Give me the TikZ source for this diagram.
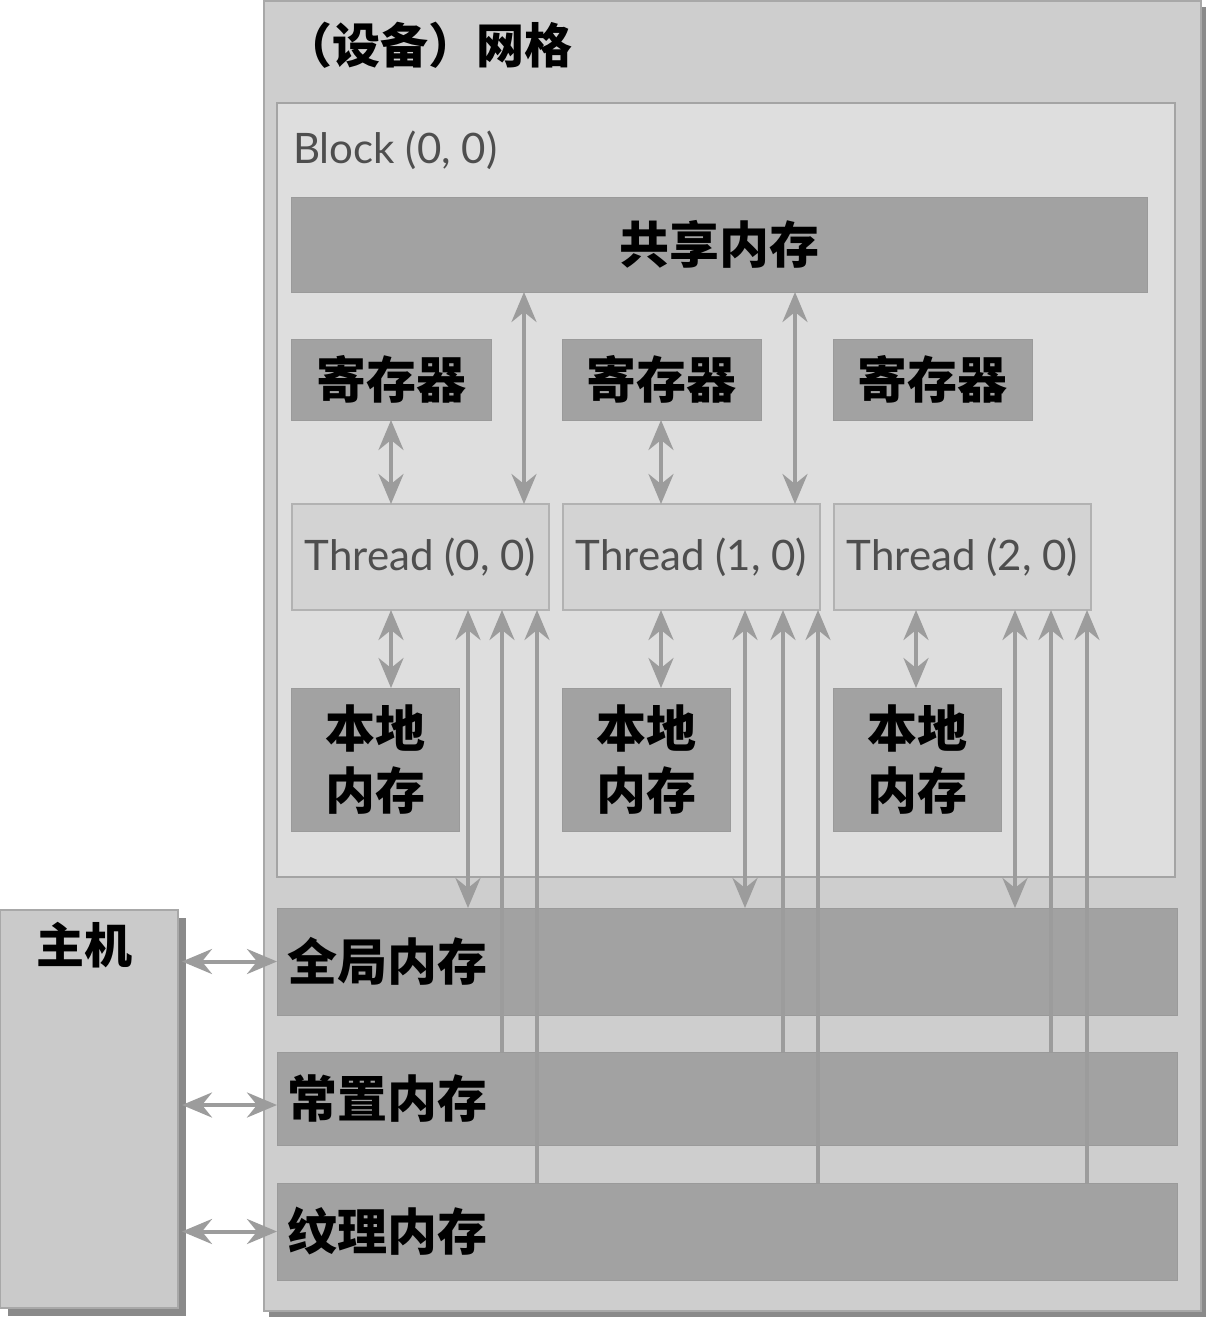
\documentclass[tikz,border=0pt]{standalone}
\usepackage{fontspec}
\setmainfont{Lato}
\newfontfamily\cjk{Noto Sans CJK SC}
\usetikzlibrary{arrows.meta,shadows,calc}
\definecolor{gridfill}{HTML}{CECECE}
\definecolor{gridline}{HTML}{A8A8A8}
\definecolor{blockfill}{HTML}{DEDEDE}
\definecolor{blockline}{HTML}{A4A4A4}
\definecolor{darkfill}{HTML}{A2A2A2}
\definecolor{darkline}{HTML}{9A9A9A}
\definecolor{thfill}{HTML}{D3D3D3}
\definecolor{thline}{HTML}{B2B2B2}
\definecolor{arrowc}{HTML}{9C9C9C}
\definecolor{hostfill}{HTML}{CACACA}
\definecolor{shadowc}{HTML}{8A8A8A}
\definecolor{txtgray}{HTML}{4E4E4E}
\begin{document}
\begin{tikzpicture}[x=1pt,y=-1pt,
  box/.style={rectangle, anchor=north west, inner sep=0pt, outer sep=0pt},
  darkbox/.style={box, fill=darkfill, draw=darkline, line width=1pt,
    font=\cjk\bfseries\fontsize{50}{62}\selectfont, text=black, align=center},
  membox/.style={darkbox, minimum width=900pt, text width=880pt, align=left},
  thbox/.style={box, fill=thfill, draw=thline, line width=1.5pt, minimum width=257pt,
    minimum height=106pt, font=\fontsize{42}{48}\selectfont, text=txtgray},
  conn/.style={draw=arrowc, line width=4pt},
  >={Stealth[length=30pt,width=25pt,inset=10pt]}
]
\useasboundingbox (0,0) rectangle (1208,1318);

% grid (device)
\node[box, fill=gridfill, draw=gridline, line width=1.5pt, minimum width=937pt, minimum height=1310pt,
  drop shadow={shadow xshift=5pt, shadow yshift=-6pt, opacity=1, fill=shadowc}] (grid) at (264,1) {};
\node[anchor=west, font=\cjk\bfseries\fontsize{48}{52}\selectfont, inner sep=0pt] (gridlbl) at (284,45) {（设备）网格};

% block
\node[box, fill=blockfill, draw=blockline, line width=2pt, minimum width=898pt, minimum height=774pt] (block) at (277,103) {};
\node[anchor=west, font=\fontsize{42}{48}\selectfont, text=txtgray, inner sep=0pt] (blocklbl) at (293,150) {Block (0, 0)};

% shared memory
\node[darkbox, minimum width=856pt, minimum height=95pt] (sh) at (291,197) {共享内存};

% registers
\node[darkbox, minimum width=200pt, minimum height=81pt] (r1) at (291,339) {寄存器};
\node[darkbox, minimum width=199pt, minimum height=81pt] (r2) at (562,339) {寄存器};
\node[darkbox, minimum width=199pt, minimum height=81pt] (r3) at (833,339) {寄存器};

% threads
\node[thbox] (t1) at (292,504) {Thread (0, 0)};
\node[thbox] (t2) at (563,504) {Thread (1, 0)};
\node[thbox] (t3) at (834,504) {Thread (2, 0)};

% local memory
\node[darkbox, minimum width=168pt, minimum height=143pt] (l1) at (291,688) {本地\\内存};
\node[darkbox, minimum width=168pt, minimum height=143pt] (l2) at (562,688) {本地\\内存};
\node[darkbox, minimum width=168pt, minimum height=143pt] (l3) at (833,688) {本地\\内存};

% device memories
\node[membox, minimum height=107pt] (gm) at (277,908) {全局内存};
\node[membox, minimum height=93pt] (cm) at (277,1052) {常置内存};
\node[membox, minimum height=97pt] (tm) at (277,1183) {纹理内存};

% host
\node[box, fill=hostfill, draw=gridline, line width=1.5pt, minimum width=178pt, minimum height=398pt,
  drop shadow={shadow xshift=8pt, shadow yshift=-8pt, opacity=1, fill=shadowc}] (host) at (0,910) {};
\node[anchor=north, font=\cjk\bfseries\fontsize{48}{52}\selectfont, inner sep=0pt] (hostlbl) at (84,922) {主机};

% x positions of vertical connectors
\coordinate (xa1) at (391,0);
\coordinate (xa2) at (661,0);
\coordinate (xs1) at (524,0);
\coordinate (xs2) at (795,0);
\coordinate (xl3) at (916,0);
\coordinate (g1) at (468,0);  \coordinate (c1) at (502,0);  \coordinate (x1) at (537,0);
\coordinate (g2) at (745,0);  \coordinate (c2) at (783,0);  \coordinate (x2) at (818,0);
\coordinate (g3) at (1015,0); \coordinate (c3) at (1051,0); \coordinate (x3) at (1087,0);

% register <-> thread
\draw[conn,<->] (r1.south -| xa1) -- (t1.north -| xa1);
\draw[conn,<->] (r2.south -| xa2) -- (t2.north -| xa2);
% shared <-> thread
\draw[conn,<->] (sh.south -| xs1) -- (t1.north -| xs1);
\draw[conn,<->] (sh.south -| xs2) -- (t2.north -| xs2);
% thread <-> local
\draw[conn,<->] (t1.south -| xa1) -- (l1.north -| xa1);
\draw[conn,<->] (t2.south -| xa2) -- (l2.north -| xa2);
\draw[conn,<->] (t3.south -| xl3) -- (l3.north -| xl3);
% thread <-> global, constant/texture -> thread
\draw[conn,<->] (t1.south -| g1) -- (gm.north -| g1);
\draw[conn,<->] (t2.south -| g2) -- (gm.north -| g2);
\draw[conn,<->] (t3.south -| g3) -- (gm.north -| g3);
\draw[conn,->] (cm.north -| c1) -- (t1.south -| c1);
\draw[conn,->] (cm.north -| c2) -- (t2.south -| c2);
\draw[conn,->] (cm.north -| c3) -- (t3.south -| c3);
\draw[conn,->] (tm.north -| x1) -- (t1.south -| x1);
\draw[conn,->] (tm.north -| x2) -- (t2.south -| x2);
\draw[conn,->] (tm.north -| x3) -- (t3.south -| x3);

% host <-> memories
\draw[conn,<->] ([xshift=4pt]host.east |- gm.west) -- (gm.west);
\draw[conn,<->] ([xshift=4pt]host.east |- 0,1105) -- (cm.west |- 0,1105);
\draw[conn,<->] ([xshift=4pt]host.east |- tm.west) -- (tm.west);
\end{tikzpicture}
\end{document}
